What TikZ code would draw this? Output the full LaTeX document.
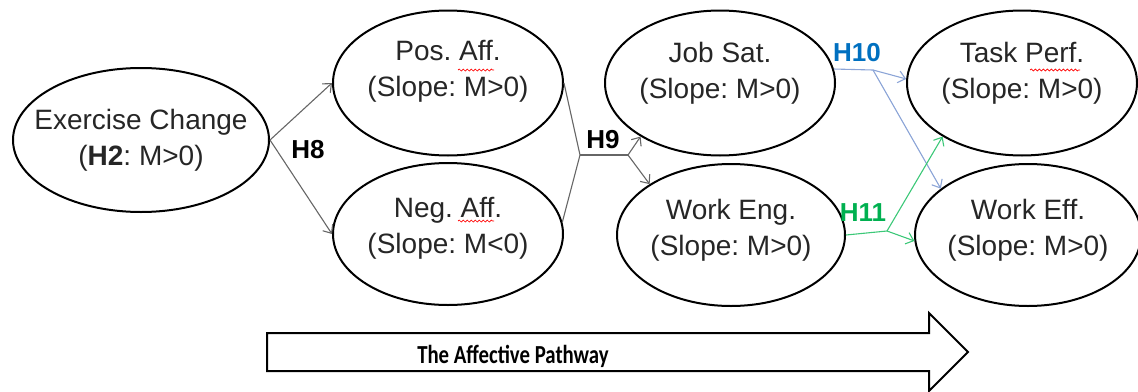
\documentclass[tikz,border=0pt]{standalone}
\usepackage{fontspec}
\setmainfont{Liberation Sans}
\newfontfamily\calibri{Carlito}
\usetikzlibrary{shapes.geometric,arrows.meta,decorations.pathmorphing}
\definecolor{hblue}{RGB}{0,112,192}
\definecolor{lblue}{RGB}{140,165,215}
\definecolor{hgreen}{RGB}{0,176,80}
\definecolor{lgreen}{RGB}{60,200,120}
\frenchspacing
\begin{document}
\begin{tikzpicture}[x=1pt,y=-1pt,
	ell/.style={ellipse, draw=black, line width=2pt, inner sep=0pt},
	txt/.style={align=center, font=\fontsize{28}{36}\selectfont, text=black!85},
	hlab/.style={font=\fontsize{26}{30}\selectfont\bfseries},
	con/.style={-{Straight Barb[length=7pt,width=12pt]}, line width=1.1pt, draw=black!60},
	squig/.style={red, line width=0.7pt, decorate, decoration={snake, amplitude=1pt, segment length=4pt}}]
	\useasboundingbox (0,0) rectangle (1138,391);
	
	% the ellipses
	\node[ell, minimum width=256pt, minimum height=144pt] (ex) at (141,140) {};
	\node[ell, minimum width=230pt, minimum height=145pt] (pos) at (448,83) {};
	\node[ell, minimum width=230pt, minimum height=142pt] (neg) at (448,234) {};
	\node[ell, minimum width=230pt, minimum height=145pt] (job) at (720,83) {};
	\node[ell, minimum width=228pt, minimum height=142pt] (eng) at (731,235) {};
	\node[ell, minimum width=230pt, minimum height=145pt] (task) at (1022,83) {};
	\node[ell, minimum width=226pt, minimum height=142pt] (eff) at (1028,235) {};
	
	\node[txt] (exT) at (ex.center) {Exercise Change\\(\textbf{H2}: M>0)};
	\node[txt] (posT) at ([yshift=12pt]pos.center) {Pos. Aff.\\(Slope: M>0)};
	\node[txt] (negT) at ([yshift=6pt]neg.center) {Neg. Aff.\\(Slope: M<0)};
	\node[txt] (jobT) at ([yshift=10pt]job.center) {Job Sat.\\(Slope: M>0)};
	\node[txt] (engT) at ([yshift=5pt]eng.center) {Work Eng.\\(Slope: M>0)};
	\node[txt] (taskT) at ([yshift=10pt]task.center) {Task Perf.\\(Slope: M>0)};
	\node[txt] (effT) at ([yshift=5pt]eff.center) {Work Eff.\\(Slope: M>0)};
	
	% spelling marks
	\draw[squig] (458,70) -- (494,70);
	\draw[squig] (458,221) -- (494,221);
	\draw[squig] (1030,70) -- (1080,70);
	
	% H8
	\draw[con] (ex.east) -- (pos.west);
	\draw[con] (ex.east) -- (neg.west);
	\node[hlab] (h8) at (308,150) {H8};
	
	% H9
	\coordinate (h9) at (580,155);
	\coordinate (h9r) at (628,155);
	\draw[black!60, line width=1.1pt] (pos.east) -- (h9) -- (neg.6);
	\draw[black!60, line width=1.1pt] (h9) -- (h9r);
	\draw[con] (h9r) -- (job.214);
	\draw[con] (h9r) -- (eng.148);
	\node[hlab] (h9l) at (603,140) {H9};
	
	% H10
	\coordinate (h10) at (873,70);
	\draw[lblue, line width=1.1pt] (job.7) -- (h10);
	\draw[con, draw=lblue] (h10) -- (task.178);
	\draw[con, draw=lblue] (h10) -- (eff.152);
	\node[hlab, text=hblue] (h10l) at (857,53) {H10};
	
	% H11
	\coordinate (h11) at (887,231);
	\draw[lgreen, line width=1.1pt] (eng.east) -- (h11);
	\draw[con, draw=lgreen] (h11) -- (eff.183);
	\draw[con, draw=lgreen] (h11) -- (task.214);
	\node[hlab, text=hgreen] (h11l) at (863,213) {H11};
	
	% pathway arrow
	\draw[line width=2pt, line join=miter] (267,333) -- (929,333) -- (929,313) -- (968,352)
		-- (929,391) -- (929,371) -- (267,371) -- cycle;
	\node (pathT) at (513,356) {\scalebox{0.8}[1]{\calibri\bfseries\fontsize{26}{30}\selectfont The Affective Pathway}};
\end{tikzpicture}
\end{document}
